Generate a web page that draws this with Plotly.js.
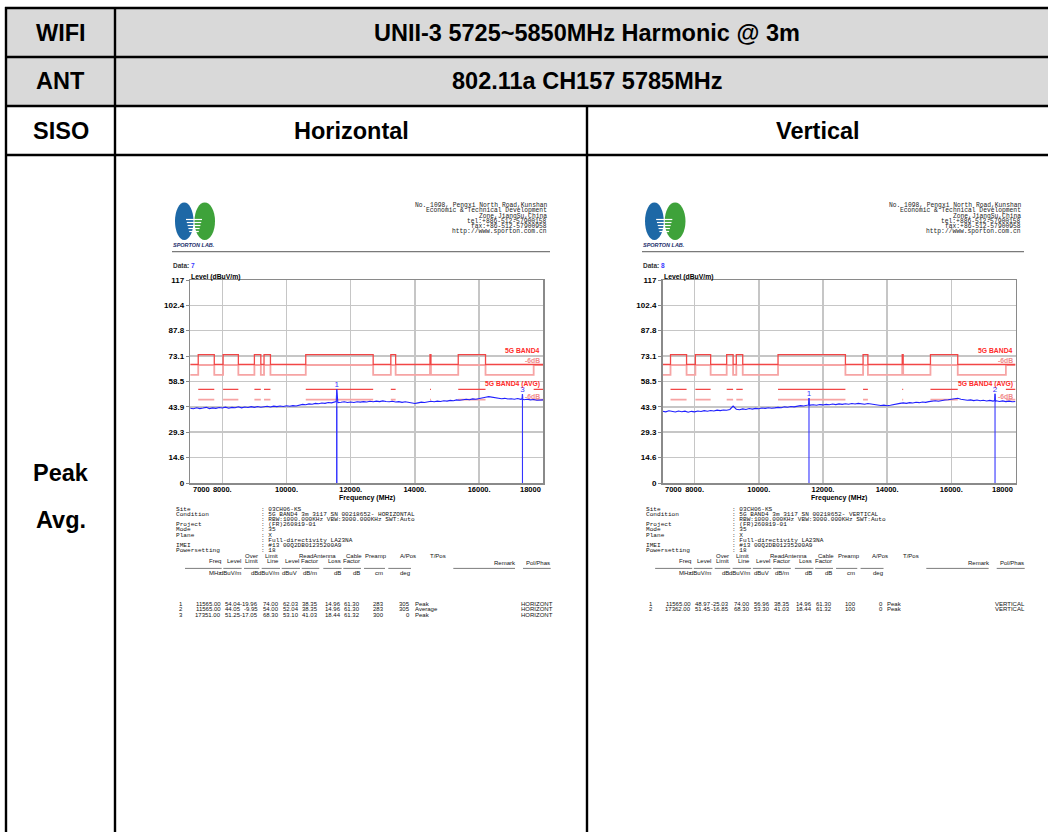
<!DOCTYPE html>
<html><head><meta charset="utf-8">
<script src="https://cdn.plot.ly/plotly-3.0.1.min.js"></script>
<style>html,body{margin:0;padding:0;background:#fff;}#chart{width:1048px;height:832px;}</style>
</head><body><div id="chart"></div>
<script>
// ---------------- data ----------------
const rowHeads = ['WIFI', 'ANT', 'SISO', 'Peak', 'Avg.'];
const bandTitle = 'UNII-3 5725~5850MHz Harmonic @ 3m';
const antTitle = '802.11a CH157 5785MHz';
const polTitles = ['Horizontal', 'Vertical'];
const dataNumbers = ['7', '8'];
const addressLines = ['No. 1098, Pengxi North Road,Kunshan', 'Economic & Technical Development', 'Zone,JiangSu,China',
  'tel:+886-512-57900158', 'fax:+86-512-57900958', 'http://www.sporton.com.cn'];
const infoLabels = ['Site', 'Condition', '', 'Project', 'Mode', 'Plane', '', 'IMEI', 'Powersetting'];
const infoValuesH = ['03CH06-KS', '5G BAND4 3m 3117 SN 00218652- HORIZONTAL', 'RBW:1000.000KHz VBW:3000.000KHz SWT:Auto',
  '(FR)260819-01', '35', 'X', 'Full-directivity LA23NA', '#13 00Q2DB01235200A9', '18'];
const infoValuesV = ['03CH06-KS', '5G BAND4 3m 3117 SN 00218652- VERTICAL', 'RBW:1000.000KHz VBW:3000.000KHz SWT:Auto',
  '(FR)260819-01', '35', 'X', 'Full-directivity LA23NA', '#13 00Q2DB01235200A9', '18'];
const colHead1 = ['Over', 'Limit', 'ReadAntenna', 'Cable', 'Preamp', 'A/Pos', 'T/Pos'];
const colHead2 = ['Freq', 'Level', 'Limit', 'Line', 'Level', 'Factor', 'Loss', 'Factor'];
const colUnits = ['MHz', 'dBuV/m', 'dB', 'dBuV/m', 'dBuV', 'dB/m', 'dB', 'dB', 'cm', 'deg'];
const remarkHead = 'Remark', polHead = 'Pol/Phas';

const xTickVals = [7000, 8000, 10000, 12000, 14000, 16000, 18000];
const xTickText = ['7000', '8000.', '10000.', '12000.', '14000.', '16000.', '18000'];
const yTickVals = [0, 14.6, 29.3, 43.9, 58.5, 73.1, 87.8, 102.4, 117];
const yTickText = ['0', '14.6', '29.3', '43.9', '58.5', '73.1', '87.8', '102.4', '117'];
const limitNames = ['5G BAND4', '-6dB', '5G BAND4 (AVG)', '-6dB'];

const limitBands = [[7250, 7750], [8025, 8500], [9000, 9200], [9300, 9500], [10600, 12700], [13250, 13400], [14470, 14500], [15350, 16200]];
const marginBands = [[7250, 7750], [8025, 8500], [9000, 9200], [9300, 9500], [10600, 12700], [13250, 13400], [14470, 14500], [15350, 16200], [17700, 18000]];
const avgBands = [[7250, 7750], [8025, 8500], [9000, 9200], [9300, 9500], [10600, 12700], [13250, 13400], [14470, 14500], [15350, 16200], [17700, 18000]];
const peakLimitRestricted = 74, peakLimitOther = 68.3, avgLimit = 54, marginDb = 6;

// Horizontal spectrum
const freqH = [
  7000, 7100, 7200, 7300, 7400, 7500, 7600, 7700, 7800, 7900,
  8000, 8100, 8200, 8300, 8400, 8500, 8600, 8700, 8800, 8900,
  9000, 9100, 9200, 9300, 9400, 9500, 9600, 9700, 9800, 9900,
  10000, 10100, 10200, 10300, 10400, 10500, 10600, 10700, 10800, 10900,
  11000, 11100, 11200, 11300, 11400, 11500, 11550, 11565, 11580, 11600, 11700, 11800, 11900,
  12000, 12100, 12200, 12300, 12400, 12500, 12600, 12700, 12800, 12900,
  13000, 13100, 13200, 13300, 13400, 13500, 13600, 13700, 13800, 13900,
  14000, 14100, 14200, 14300, 14400, 14500, 14600, 14700, 14800, 14900,
  15000, 15100, 15200, 15300, 15400, 15500, 15600, 15700, 15800, 15900,
  16000, 16100, 16200, 16300, 16400, 16500, 16600, 16700, 16800, 16900,
  17000, 17100, 17200, 17300, 17340, 17351, 17360, 17400, 17500, 17600, 17700, 17800, 17900,
  18000];
const levelH = [
  43.1, 42.8, 43.4, 42.9, 43.2, 43.6, 42.9, 43.3, 43.0, 43.5,
  43.2, 43.7, 43.1, 43.6, 43.4, 43.9, 43.3, 43.8, 43.5, 44.0,
  43.6, 44.1, 43.7, 43.9, 44.2, 43.8, 44.3, 44.0, 44.4, 44.1,
  44.5, 44.2, 44.6, 44.4, 44.9, 45.3, 45.1, 45.6, 45.4, 45.9,
  45.7, 46.1, 45.9, 46.4, 46.2, 46.6, 46.9, 54.04, 46.7, 46.3, 46.5, 46.8, 46.4,
  46.7, 46.4, 46.8, 46.6, 46.9, 46.7, 47.1, 46.8, 47.2, 46.9,
  47.3, 47.0, 46.8, 47.1, 46.7, 46.9, 46.5, 46.8, 46.4, 46.2,
  45.8, 46.2, 46.6, 46.4, 46.9, 47.1, 46.8, 47.2, 47.0, 47.4,
  47.2, 47.6, 47.4, 47.9, 47.7, 48.1, 48.3, 48.0, 48.5, 48.3,
  48.8, 49.1, 49.4, 49.8, 49.5, 49.2, 48.9, 48.6, 48.8, 48.4,
  48.6, 48.3, 48.7, 48.2, 48.5, 51.25, 48.3, 48.0, 48.3, 47.9, 48.1, 47.7, 48.0,
  47.9];

// Vertical spectrum
const freqV = [
  7000, 7100, 7200, 7300, 7400, 7500, 7600, 7700, 7800, 7900,
  8000, 8100, 8200, 8300, 8400, 8500, 8600, 8700, 8800, 8900,
  9000, 9100, 9200, 9300, 9400, 9500, 9600, 9700, 9800, 9900,
  10000, 10100, 10200, 10300, 10400, 10500, 10600, 10700, 10800, 10900,
  11000, 11100, 11200, 11300, 11400, 11500, 11550, 11565, 11580, 11600, 11700, 11800, 11900,
  12000, 12100, 12200, 12300, 12400, 12500, 12600, 12700, 12800, 12900,
  13000, 13100, 13200, 13300, 13400, 13500, 13600, 13700, 13800, 13900,
  14000, 14100, 14200, 14300, 14400, 14500, 14600, 14700, 14800, 14900,
  15000, 15100, 15200, 15300, 15400, 15500, 15600, 15700, 15800, 15900,
  16000, 16100, 16200, 16300, 16400, 16500, 16600, 16700, 16800, 16900,
  17000, 17100, 17200, 17300, 17350, 17362, 17375, 17400, 17500, 17600, 17700, 17800, 17900,
  18000];
const levelV = [
  41.4, 41.0, 41.6, 41.2, 40.9, 41.5, 41.1, 41.4, 40.8, 41.3,
  41.0, 41.5, 41.2, 41.7, 41.4, 41.8, 41.5, 42.0, 41.7, 42.1,
  41.9, 42.4, 44.3, 42.5, 42.2, 42.7, 42.4, 42.9, 42.6, 43.0,
  42.8, 43.2, 43.0, 43.4, 43.1, 43.3, 43.6, 43.4, 43.9, 43.7,
  44.1, 43.9, 44.3, 44.6, 44.4, 44.8, 45.0, 48.97, 44.7, 44.9, 45.1, 44.8, 45.2,
  45.0, 45.3, 45.1, 45.5, 45.2, 45.6, 45.3, 45.7, 45.4, 45.8,
  45.5, 45.9, 45.6, 45.4, 45.8, 45.5, 45.2, 45.0, 44.7, 44.9,
  44.5, 44.8, 45.3, 45.6, 45.9, 46.2, 45.9, 46.3, 46.1, 46.5,
  46.3, 46.7, 46.5, 46.9, 47.2, 47.4, 47.1, 47.6, 47.8, 48.0,
  48.2, 48.5, 48.8, 48.3, 48.0, 47.7, 47.9, 47.5, 47.8, 47.4,
  47.7, 47.3, 47.6, 47.2, 47.5, 51.45, 47.1, 47.4, 47.0, 47.3, 46.9, 47.2, 46.8,
  47.0];

// Marker tables
const mkNoH = [1, 2, 3];
const mkFreqH = [11565.00, 11565.00, 17351.00];
const mkLevelH = [54.04, 44.05, 51.25];
const mkOverH = [-19.96, -9.95, -17.05];
const mkLimitH = [74.00, 54.00, 68.30];
const mkReadH = [62.03, 52.04, 53.10];
const mkAntH = [38.35, 38.35, 41.03];
const mkCableH = [14.96, 14.96, 18.44];
const mkPreampH = [61.30, 61.30, 61.32];
const mkAPosH = [283, 283, 300];
const mkTPosH = [305, 305, 0];
const mkRemarkH = ['Peak', 'Average', 'Peak'];
const mkPolH = ['HORIZONT', 'HORIZONT', 'HORIZONT'];

const mkNoV = [1, 2];
const mkFreqV = [11565.00, 17362.00];
const mkLevelV = [48.97, 51.45];
const mkOverV = [-25.03, -16.85];
const mkLimitV = [74.00, 68.30];
const mkReadV = [56.96, 53.30];
const mkAntV = [38.35, 41.03];
const mkCableV = [14.96, 18.44];
const mkPreampV = [61.30, 61.32];
const mkAPosV = [100, 100];
const mkTPosV = [0, 0];
const mkRemarkV = ['Peak', 'Peak'];
const mkPolV = ['VERTICAL', 'VERTICAL'];

// ---------------- helpers / styles ----------------
const W = 1048, H = 832;
const X = p => p / W, Y = p => 1 - p / H;
const SANS = 'Arial, "Liberation Sans", sans-serif';
const MONO = '"Liberation Mono", "DejaVu Sans Mono", monospace';
const RED = '#f24646', PINK = '#f6a4a4', BLUE = '#1f1fff', GRID = '#c6c6c6', FRAME = '#8a8a8a';
const TXT = '#111';
const YTICKFONT = {family: SANS, size: 8, color: '#000', weight: 'bold'};
const XTICKFONT = {family: SANS, size: 7.5, color: '#000', weight: 'bold'};

const annotations = [], shapes = [], traces = [];
function T(x, y, text, size, o) {
  o = o || {};
  const a = {xref: 'paper', yref: 'paper', x: X(x), y: Y(y), text: text, showarrow: false,
    xanchor: o.xa || 'center', yanchor: 'middle', borderpad: 0,
    font: {family: o.family || SANS, size: size, color: o.color || '#000', weight: o.weight || 'normal', style: o.style || 'normal'}};
  annotations.push(a);
}
function L(x0, y0, x1, y1, color, width) {
  shapes.push({type: 'line', xref: 'paper', yref: 'paper', x0: X(x0), y0: Y(y0), x1: X(x1), y1: Y(y1), line: {color: color, width: width}});
}
function stepLine(bands, hi, lo) {
  const x = [7000], y = [lo];
  bands.forEach(([a, b]) => {
    x.push(a, a, b); y.push(lo, hi, hi);
    if (b < 18000) { x.push(b); y.push(lo); }
  });
  if (bands[bands.length - 1][1] < 18000) { x.push(18000); y.push(lo); }
  return {x, y};
}
function segLine(bands, v) {
  const x = [], y = [];
  bands.forEach(([a, b]) => { x.push(a, b, null); y.push(v, v, null); });
  return {x, y};
}

// ---------------- table frame ----------------
shapes.push({type: 'rect', xref: 'paper', yref: 'paper', x0: X(6), x1: X(1048), y0: Y(106), y1: Y(8), fillcolor: '#d9d9d9', line: {width: 0}, layer: 'below'});
[8, 57, 106, 155].forEach(yy => L(5, yy, 1048, yy, '#000', 2.4));
L(6, 7, 6, 832, '#000', 2.4);
L(115, 7, 115, 832, '#000', 2.4);
L(587, 106, 587, 832, '#000', 2.4);

const BIG = 23.5;
T(60.5, 33, rowHeads[0], BIG, {weight: 'bold'});
T(60.5, 81.5, rowHeads[1], BIG, {weight: 'bold'});
T(60.5, 131, rowHeads[2], BIG, {weight: 'bold'});
T(60.5, 473, rowHeads[3], BIG, {weight: 'bold'});
T(60.5, 520, rowHeads[4], BIG, {weight: 'bold'});
T(587, 33, bandTitle, BIG, {weight: 'bold'});
T(587, 81.5, antTitle, BIG, {weight: 'bold'});
T(351, 131, polTitles[0], BIG, {weight: 'bold'});
T(817.5, 131, polTitles[1], BIG, {weight: 'bold'});

// ---------------- panels ----------------
const panels = [
  {ox: 172, sx: 1, dom: [190.2, 543.3], freq: freqH, level: levelH, info: infoValuesH, dataNo: dataNumbers[0],
   mk: {no: mkNoH, f: mkFreqH, lv: mkLevelH, ov: mkOverH, li: mkLimitH, rd: mkReadH, an: mkAntH, cb: mkCableH, pa: mkPreampH, ap: mkAPosH, tp: mkTPosH, rm: mkRemarkH, pl: mkPolH}},
  {ox: 642, sx: 1.0106, dom: [662.5, 1015.5], freq: freqV, level: levelV, info: infoValuesV, dataNo: dataNumbers[1],
   mk: {no: mkNoV, f: mkFreqV, lv: mkLevelV, ov: mkOverV, li: mkLimitV, rd: mkReadV, an: mkAntV, cb: mkCableV, pa: mkPreampV, ap: mkAPosV, tp: mkTPosV, rm: mkRemarkV, pl: mkPolV}}
];

const layout = {width: W, height: H, margin: {l: 0, r: 0, t: 0, b: 0}, paper_bgcolor: '#fff', plot_bgcolor: '#fff',
  showlegend: false, font: {family: SANS}, annotations: annotations, shapes: shapes};

// end labels of the frequency axis sit inside the frame, so they are drawn as axis-anchored annotations
const lastTick = xTickText.length - 1;
const xTicksInner = xTickText.map((t, k) => (k === 0 || k === lastTick) ? '' : t);

panels.forEach((p, i) => {
  const xa = i ? 'x2' : 'x', ya = i ? 'y2' : 'y';
  const tx = lx => p.ox + p.sx * (lx - 172);
  const pr = p.dom[1], pl = p.dom[0];

  layout[i ? 'xaxis2' : 'xaxis'] = {domain: [X(pl), X(pr)], anchor: ya, range: [7000, 18000], tickmode: 'array',
    tickvals: xTickVals, ticktext: xTicksInner, tickfont: XTICKFONT, ticklabelstandoff: -2,
    showgrid: true, gridcolor: GRID, gridwidth: 1.5, showline: true, mirror: true, linecolor: FRAME, linewidth: 1.5,
    zeroline: false, ticks: '', fixedrange: true};
  layout[i ? 'yaxis2' : 'yaxis'] = {domain: [Y(483), Y(280)], anchor: xa, range: [0, 117], tickmode: 'array',
    tickvals: yTickVals, ticktext: yTickText, tickfont: YTICKFONT,
    showgrid: true, gridcolor: GRID, gridwidth: 1.5, showline: true, mirror: true, linecolor: FRAME, linewidth: 1.5,
    zeroline: false, ticks: 'outside', ticklen: 3, tickcolor: FRAME, fixedrange: true};

  annotations.push({xref: xa, yref: 'paper', x: xTickVals[0], y: Y(489.5), xanchor: 'left', yanchor: 'middle', xshift: 1.5,
    text: xTickText[0], showarrow: false, borderpad: 0, font: XTICKFONT});
  annotations.push({xref: xa, yref: 'paper', x: xTickVals[lastTick], y: Y(489.5), xanchor: 'right', yanchor: 'middle', xshift: -1.5,
    text: xTickText[lastTick], showarrow: false, borderpad: 0, font: XTICKFONT});

  // limit lines
  const mg = stepLine(marginBands, peakLimitRestricted - marginDb, peakLimitOther - marginDb);
  traces.push({x: mg.x, y: mg.y, xaxis: xa, yaxis: ya, mode: 'lines', line: {color: PINK, width: 1.8}, hoverinfo: 'skip'});
  const lm = stepLine(limitBands, peakLimitRestricted, peakLimitOther);
  traces.push({x: lm.x, y: lm.y, xaxis: xa, yaxis: ya, mode: 'lines', line: {color: RED, width: 1.3}, hoverinfo: 'skip'});
  const av6 = segLine(avgBands, avgLimit - marginDb);
  traces.push({x: av6.x, y: av6.y, xaxis: xa, yaxis: ya, mode: 'lines', line: {color: PINK, width: 1.8}, hoverinfo: 'skip'});
  const av = segLine(avgBands, avgLimit);
  traces.push({x: av.x, y: av.y, xaxis: xa, yaxis: ya, mode: 'lines', line: {color: RED, width: 1.3}, hoverinfo: 'skip'});

  // spectrum
  traces.push({x: p.freq, y: p.level, xaxis: xa, yaxis: ya, mode: 'lines', line: {color: BLUE, width: 1.1}, hoverinfo: 'skip'});

  // markers
  const mx = [], my = [], lx = [], ly = [], lt = [];
  p.mk.f.forEach((f, k) => {
    mx.push(f, f, null); my.push(0, p.mk.lv[k], null);
    if (p.mk.rm[k] === 'Peak') { lx.push(f); ly.push(p.mk.lv[k]); lt.push(String(p.mk.no[k])); }
  });
  traces.push({x: mx, y: my, xaxis: xa, yaxis: ya, mode: 'lines', line: {color: '#3434ff', width: 1.1}, hoverinfo: 'skip'});
  traces.push({x: lx, y: ly, text: lt, xaxis: xa, yaxis: ya, mode: 'text', textposition: 'top center',
    textfont: {family: SANS, size: 8, color: '#3434ff'}, hoverinfo: 'skip'});

  // limit labels
  T(pr - 2, 350.5, limitNames[0], 6.8, {xa: 'right', color: '#ff2a2a', weight: 'bold'});
  T(pr - 2, 360.7, limitNames[1], 6.8, {xa: 'right', color: '#f08a8a', weight: 'bold'});
  T(pr - 2, 384.3, limitNames[2], 6.8, {xa: 'right', color: '#ff2a2a', weight: 'bold'});
  T(pr - 2, 396, limitNames[3], 6.8, {xa: 'right', color: '#f08a8a', weight: 'bold'});

  // axis titles
  T(pl, 276.7, 'Level (dBuV/m)', 6.8, {xa: 'left', weight: 'bold'});
  T((pl + pr) / 2, 498.3, 'Frequency (MHz)', 7, {weight: 'bold'});

  // header: logo, address, rule, data no.
  shapes.push({type: 'circle', xref: 'paper', yref: 'paper', x0: X(tx(175)), x1: X(tx(193.5)), y0: Y(240), y1: Y(202.5), fillcolor: '#1d68a6', line: {width: 0}});
  shapes.push({type: 'circle', xref: 'paper', yref: 'paper', x0: X(tx(194.5)), x1: X(tx(215)), y0: Y(240), y1: Y(202.5), fillcolor: '#3ea23a', line: {width: 0}});
  [219.5, 222.5, 225.5, 228.5, 231.5].forEach((yy, k) => L(tx(186 + k * 0.8), yy, tx(202 - k * 0.8), yy, '#fff', 1.2));
  T(tx(172), 244.5, 'SPORTON LAB.', 5.5, {xa: 'left', weight: 'bold', style: 'italic', color: '#1b2d6b'});
  const addrY = [205.7, 210.9, 216.1, 221.3, 226.5, 231.7];
  addressLines.forEach((s, k) => T(tx(548), addrY[k], s, 6.3, {xa: 'right', family: MONO, color: '#222'}));
  L(tx(172), 251.7, tx(550), 251.7, '#7a7a7a', 1.3);
  T(tx(172), 265, '<b>Data: </b><b><span style="color:#3a3aff">' + p.dataNo + '</span></b>', 6.5, {xa: 'left', color: '#333'});

  // info block
  const infoY = [509, 514.2, 519.4, 524.6, 529.8, 535, 540.2, 545.4, 550.6];
  infoLabels.forEach((s, k) => { if (s) T(tx(175), infoY[k], s, 6.1, {xa: 'left', family: MONO, color: TXT}); });
  p.info.forEach((s, k) => T(tx(260), infoY[k], ': ' + s, 6.1, {xa: 'left', family: MONO, color: TXT}));

  // column headers (proportional font so the narrow columns do not collide)
  const CS = 6;
  const h1R = [259.3, 279.3, 336.7, 362.7, 388.3, 416.7, 447.3];
  colHead1.forEach((s, k) => T(tx(h1R[k]), 555.8, s, CS, {xa: 'right', color: TXT}));
  const h2R = [221.7, 241.7, 259.3, 280, 300, 319.3, 341.7, 361];
  colHead2.forEach((s, k) => T(tx(h2R[k]), 560.9, s, CS, {xa: 'right', color: TXT}));
  T(tx(493.3), 563.4, remarkHead, CS, {xa: 'left', color: TXT});
  T(tx(525), 563.4, polHead, CS, {xa: 'left', color: TXT});
  const dash = [[185, 221.7], [223.3, 241.7], [244, 259.3], [261.7, 280], [281.7, 300], [301.7, 319.3], [323.3, 341.7], [343.3, 361], [364, 385], [388.3, 411], [453.3, 515], [523, 550.7]];
  dash.forEach(([a, b]) => L(tx(a), 568.4, tx(b), 568.4, '#444', 0.7));
  const uR = [221.7, 241.7, 259.3, 280, 298.3, 318.3, 341.7, 361, 384, 411];
  colUnits.forEach((s, k) => T(tx(uR[k]), 572.8, s, CS, {xa: 'right', color: TXT}));

  // data rows
  const rowY = [604, 609.3, 614.6];
  const dR = [221.7, 241.7, 259.3, 280, 300, 319.3, 341.7, 361];
  p.mk.f.forEach((f, k) => {
    const yy = rowY[k];
    T(tx(180.7), yy, String(p.mk.no[k]), CS, {color: TXT});
    const vals = [p.mk.f[k], p.mk.lv[k], p.mk.ov[k], p.mk.li[k], p.mk.rd[k], p.mk.an[k], p.mk.cb[k], p.mk.pa[k]];
    vals.forEach((v, c) => T(tx(dR[c]), yy, v.toFixed(2), CS, {xa: 'right', color: TXT}));
    T(tx(385), yy, String(p.mk.ap[k]), CS, {xa: 'right', color: TXT});
    T(tx(411), yy, String(p.mk.tp[k]), CS, {xa: 'right', color: TXT});
    T(tx(413.5), yy, p.mk.rm[k], CS, {xa: 'left', color: TXT});
    T(tx(520), yy, p.mk.pl[k], CS, {xa: 'left', color: TXT});
  });
});

Plotly.newPlot('chart', traces, layout, {staticPlot: true, displayModeBar: false});
</script></body></html>
